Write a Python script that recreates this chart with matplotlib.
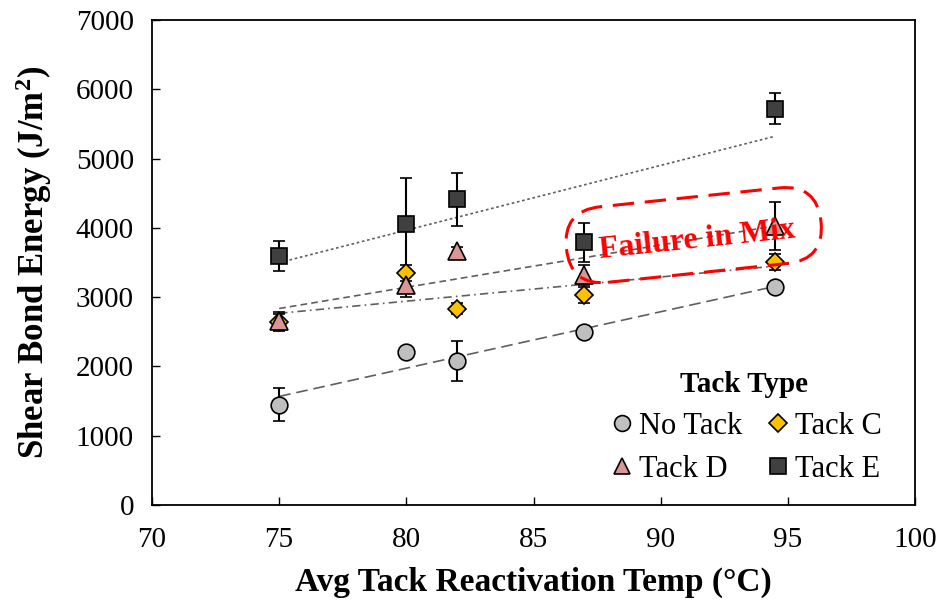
import numpy as np
import matplotlib
matplotlib.use("Agg")
import matplotlib.pyplot as plt
from matplotlib.patches import FancyBboxPatch
from matplotlib.transforms import Affine2D, ScaledTranslation

plt.rcParams['font.family'] = ['Liberation Serif', 'DejaVu Serif']
plt.rcParams['mathtext.fontset'] = 'custom'
plt.rcParams['mathtext.rm'] = 'Liberation Serif'
plt.rcParams['mathtext.bf'] = 'Liberation Serif:bold'

# Average tack reactivation temperature (°C) for each test condition
temps = [75, 80, 82, 87, 94.5]

# Shear bond energy (J/m²) and standard deviation per tack type
no_tack = [1450, 2210, 2080, 2490, 3150]
no_tack_err = [240, 40, 290, 60, 60]

tack_c = [2640, 3350, 2830, 3030, 3505]
tack_c_err = [120, 115, 80, 110, 120]

tack_d = [2650, 3180, 3660, 3320, 4030]
tack_d_err = [140, 175, 60, 150, 350]

tack_e = [3590, 4050, 4410, 3790, 5720]
tack_e_err = [215, 670, 380, 280, 220]

x_ticks = [70, 75, 80, 85, 90, 95, 100]
y_ticks = [0, 1000, 2000, 3000, 4000, 5000, 6000, 7000]

fig = plt.figure(figsize=(9.45, 6.07), dpi=100)
ax = fig.add_axes([152 / 945, 1 - 505 / 607, (915 - 152) / 945, (505 - 20) / 607])

series = [
    ("Tack E", tack_e, tack_e_err, 's', '#404040', 11.5, (0, (1.6, 1.6))),
    ("No Tack", no_tack, no_tack_err, 'o', '#BFBFBF', 12, (0, (7, 3.5))),
    ("Tack C", tack_c, tack_c_err, 'D', '#FFC000', 9.5, (0, (5, 2.5, 1, 2.5))),
    ("Tack D", tack_d, tack_d_err, '^', '#DA9694', 12.5, (0, (4, 2.5))),
]

xs = np.array(temps, dtype=float)
for name, vals, err, mk, col, ms, ls in series:
    ys = np.array(vals, dtype=float)
    # linear trend line across the tested temperature range
    slope, icpt = np.polyfit(xs, ys, 1)
    xl = np.array([xs.min(), xs.max()])
    ax.plot(xl, slope * xl + icpt, color='#5f5f5f', lw=1.2, ls=ls, zorder=2)
    ax.errorbar(xs, ys, yerr=err, fmt=mk, ms=ms, mfc=col, mec='black',
                mew=1.2, ecolor='black', elinewidth=1.5, capsize=4.5,
                capthick=1.5, label=name, zorder=3)

ax.set_xlim(70, 100)
ax.set_ylim(0, 7000)
ax.set_xticks(x_ticks)
ax.set_yticks(y_ticks)
ax.tick_params(direction='in', length=6, width=1, labelsize=21)
ax.tick_params(axis='x', pad=16)
ax.tick_params(axis='y', pad=13)
for sp in ax.spines.values():
    sp.set_linewidth(1.3)

ax.set_xlabel("Avg Tack Reactivation Temp (°C)", fontsize=24, fontweight='bold', labelpad=10)
ax.set_ylabel(r"Shear Bond Energy (J/m$\mathbf{^2}$)", fontsize=25, fontweight='bold', labelpad=16)

# Legend with markers only (no error bars)
style = {s[0]: s for s in series}
leg_handles = []
for name in ["No Tack", "Tack D", "Tack C", "Tack E"]:
    n, vals, err, mk, col, ms, ls = style[name]
    leg_handles.append(plt.Line2D([], [], ls='none', marker=mk, ms=ms * 0.95,
                                  mfc=col, mec='black', mew=1.2, label=name))
ax.legend(handles=leg_handles, ncol=2, loc='lower right', bbox_to_anchor=(0.985, 0.0),
          frameon=False, title="Tack Type", fontsize=22,
          title_fontproperties={'weight': 'bold', 'size': 21},
          handletextpad=0.05, columnspacing=0.7, handlelength=1.0, labelspacing=0.45,
          borderaxespad=0.3)

# "Failure in Mix" callout
cx, cy = 91.3, 3895
angle = 6
w, h = 2.56, 0.76
oval = FancyBboxPatch((-w / 2, -h / 2), w, h, boxstyle=f"round,pad=0,rounding_size={h / 2}",
                      fc='none', ec='#FF0000', lw=2.2, ls=(0, (7, 3.5)), zorder=5)
oval.set_transform(Affine2D().rotate_deg(angle) + fig.dpi_scale_trans
                   + ScaledTranslation(cx, cy, ax.transData))
ax.add_patch(oval)
ax.text(cx + 0.15, cy - 70, "Failure in Mix", color='#FF0000', fontsize=23, fontweight='bold',
        rotation=angle, ha='center', va='center', rotation_mode='anchor', zorder=6)

fig.savefig("out.png", dpi=100)
